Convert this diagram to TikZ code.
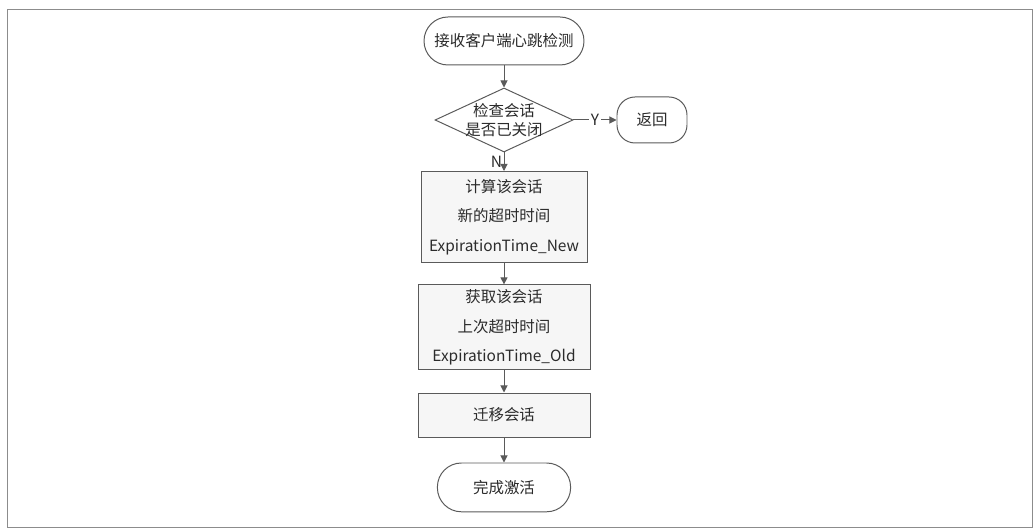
\documentclass[tikz,border=0pt]{standalone}
\usepackage{fontspec}
\setmainfont{Noto Sans CJK SC}
\usepackage{tikz}
\usetikzlibrary{arrows.meta,positioning,shapes.geometric}
\definecolor{flowline}{HTML}{5A5A5A}
\definecolor{flowtext}{HTML}{2B2B2B}
\definecolor{flowfill}{HTML}{F6F6F6}
\definecolor{framegrey}{HTML}{8C8C8C}

\begin{document}
\begin{tikzpicture}[
  termbox/.style={draw=flowline, fill=white, line width=0.7pt, rounded corners=0.6cm, minimum width=4.0cm, minimum height=1.2cm, font=\fontsize{11}{13}\selectfont\color{flowtext}},
  procbox/.style={draw=flowline, fill=flowfill, line width=0.7pt, align=center, font=\fontsize{11}{21}\selectfont\color{flowtext}},
  decbox/.style={diamond, draw=flowline, fill=white, line width=0.7pt, inner sep=0pt, minimum width=3.45cm, minimum height=1.6cm},
  dectext/.style={align=center, inner sep=0pt, font=\fontsize{11}{14}\selectfont\color{flowtext}},
  flowarrow/.style={draw=flowline, line width=0.7pt, -{Triangle[length=5pt,width=5pt]}},
  flowlabel/.style={font=\fontsize{11}{13}\selectfont\color{flowtext}, inner sep=1pt},
]
\useasboundingbox (0,0) rectangle (25.85,13.225);
% outer frame
\draw[framegrey, line width=0.6pt] (0.175,0.05) rectangle (25.8,13.0);

% main column
\node[termbox] (recv) at (12.6,12.2) {接收客户端心跳检测};
\node[decbox, label={[dectext]center:检查会话\\是否已关闭}] (check) at (12.6,10.225) {};
\node[termbox, rounded corners=0.45cm, minimum width=1.75cm, minimum height=1.15cm] (ret) at (16.3,10.225) {返回};
\node[procbox, minimum width=4.15cm, minimum height=2.275cm] (calc) at (12.6,7.8) {计算该会话\\新的超时时间\\ExpirationTime\_New};
\node[procbox, minimum width=4.3cm, minimum height=2.025cm] (fetch) at (12.6,5.04) {获取该会话\\上次超时时间\\ExpirationTime\_Old};
\node[procbox, minimum width=4.3cm, minimum height=1.1cm] (move) at (12.6,2.85) {迁移会话};
\node[termbox, minimum width=3.33cm, minimum height=1.22cm] (done) at (12.6,1.04) {完成激活};

% connectors
\draw[flowarrow] (recv) -- (check);
\draw[flowarrow] (check) -- node[flowlabel, fill=white] {Y} (ret);
\draw[flowarrow] (check) -- node[flowlabel, left] {N} (calc);
\foreach \a/\b in {calc/fetch, fetch/move, move/done} {
  \draw[flowarrow] (\a) -- (\b);
}
\end{tikzpicture}
\end{document}
